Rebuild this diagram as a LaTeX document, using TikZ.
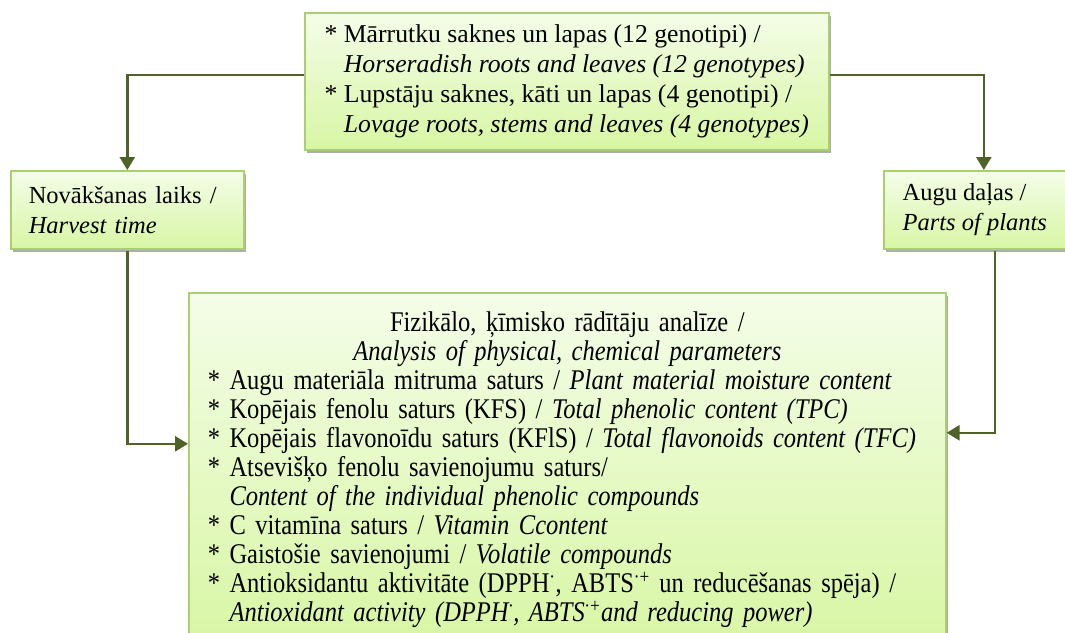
\documentclass[tikz,border=0pt]{standalone}
\usepackage{fontspec}
\setmainfont{Liberation Serif}
\newfontfamily\narrowserif[FakeStretch=0.86]{Liberation Serif}
\usetikzlibrary{arrows.meta,shadows,calc}
\definecolor{boxborder}{HTML}{A9CF6E}
\definecolor{boxtop}{HTML}{F4FDE8}
\definecolor{boxbot}{HTML}{D8F6A4}
\definecolor{connc}{HTML}{4F6228}
\newcommand\ind{\phantom{*}\ }
\newcommand\st{{*}\ }
\tikzset{
  box/.style={draw=boxborder, line width=1.6pt, top color=boxtop, bottom color=boxbot,
    drop shadow={shadow xshift=2pt, shadow yshift=-3.5pt, fill=black!40, opacity=0.8},
    anchor=north west, align=left, inner ysep=0pt},
  conn/.style={draw=connc, line width=2.6pt, -{Triangle[width=15pt,length=13pt]}},
  mainfont/.style={font=\fontsize{24.5}{30}\selectfont},
}
\begin{document}
\begin{tikzpicture}[x=1pt,y=-1pt]
\useasboundingbox[fill=white] (0,0) rectangle (1065,632);
\node[box, font=\fontsize{25.7}{30}\selectfont, minimum width=524pt, minimum height=137pt, inner xsep=10pt] (plants) at (304,12)
  {\st Mārrutku saknes un lapas (12 genotipi) /\\
   \ind\textit{Horseradish roots and leaves (12 genotypes)}\\
   \st Lupstāju saknes, kāti un lapas (4 genotipi) /\\
   \ind\textit{Lovage roots, stems and leaves (4 genotypes)}};
\node[box, mainfont, minimum width=233pt, minimum height=78pt, inner xsep=18pt, text width=197pt] (harvest) at (10,170)
  {Novākšanas laiks /\\ \textit{Harvest time}};
\node[box, mainfont, minimum width=182pt, minimum height=78pt, inner xsep=10pt] (parts) at (883,170)
  {Augu daļas /\\ \textit{Parts of plants}};
\node[box, font=\narrowserif\fontsize{28.5}{29}\selectfont, minimum width=757pt, minimum height=354pt, inner xsep=19pt, text width=719pt] (analysis) at (188,292)
  {{\centering Fizikālo, ķīmisko rādītāju analīze /\\
   \textit{Analysis of physical, chemical parameters}\par}
   \st Augu materiāla mitruma saturs / \textit{Plant material moisture content}\\
   \st Kopējais fenolu saturs (KFS) / \textit{Total phenolic content (TPC)}\\
   \st Kopējais flavonoīdu saturs (KFlS) / \textit{Total flavonoids content (TFC)}\\
   \st Atsevišķo fenolu savienojumu saturs/\\
   \ind\textit{Content of the individual phenolic compounds}\\
   \st C vitamīna saturs / \textit{Vitamin Ccontent}\\
   \st Gaistošie savienojumi / \textit{Volatile compounds}\\
   \st Antioksidantu aktivitāte (DPPH\textsuperscript{·}, ABTS\textsuperscript{·+} un reducēšanas spēja) /\\
   \ind\textit{Antioxidant activity (DPPH\textsuperscript{·}, ABTS\textsuperscript{·+}and reducing power)}};
\draw[conn] ([yshift=6.5pt]plants.west) -| (harvest.north);
\draw[conn] ([yshift=6.5pt]plants.east) -| ([xshift=9pt]parts.north);
\draw[conn] ([yshift=-1pt]harvest.south) |- ([yshift=26pt]analysis.west);
\draw[conn] ([xshift=20pt,yshift=-1pt]parts.south) |- ([yshift=37pt]analysis.east);
\end{tikzpicture}
\end{document}
